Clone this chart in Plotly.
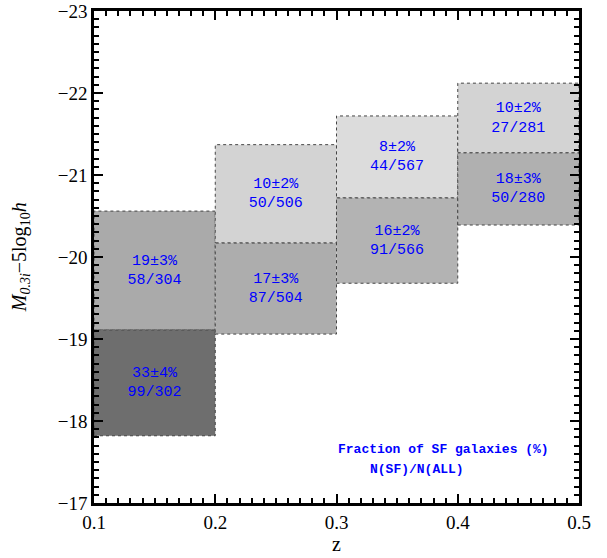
import plotly.graph_objects as go

# Redshift bins
z_lo = [0.1, 0.1, 0.2, 0.2, 0.3, 0.3, 0.4, 0.4]
z_hi = [0.2, 0.2, 0.3, 0.3, 0.4, 0.4, 0.5, 0.5]
# Magnitude bins (faint edge, bright edge)
mag_faint = [-19.11, -17.82, -20.17, -19.06, -20.72, -19.68, -21.27, -20.39]
mag_bright = [-20.56, -19.11, -21.37, -20.17, -21.72, -20.72, -22.12, -21.27]
frac_text = ["19±3%", "33±4%", "10±2%", "17±3%", "8±2%", "16±2%", "10±2%", "18±3%"]
count_text = ["58/304", "99/302", "50/506", "87/504", "44/567", "91/566", "27/281", "50/280"]
fill_colors = ["#aaaaaa", "#6e6e6e", "#d3d3d3", "#adadad", "#dcdcdc", "#b3b3b3", "#d3d3d3", "#b0b0b0"]

x_ticks = [0.1, 0.2, 0.3, 0.4, 0.5]
y_ticks = [-17, -18, -19, -20, -21, -22, -23]
y_ticklabels = ["\u221217", "\u221218", "\u221219", "\u221220", "\u221221", "\u221222", "\u221223"]

fig = go.Figure()

shapes = []
for i in range(len(z_lo)):
    shapes.append(dict(type="rect", xref="x", yref="y",
                       x0=z_lo[i], x1=z_hi[i], y0=mag_faint[i], y1=mag_bright[i],
                       fillcolor=fill_colors[i],
                       line=dict(color="#444444", width=1, dash="dot"),
                       layer="below"))

xc = [(a + b) / 2 for a, b in zip(z_lo, z_hi)]
yc = [(a + b) / 2 for a, b in zip(mag_faint, mag_bright)]
fig.add_trace(go.Scatter(
    x=xc, y=yc, mode="text",
    text=[f + "<br>" + c for f, c in zip(frac_text, count_text)],
    textfont=dict(family="Liberation Mono, DejaVu Sans Mono, monospace", size=15, color="#0000ff"),
    hoverinfo="skip", showlegend=False,
))

mono = "Liberation Mono, DejaVu Sans Mono, monospace"
fig.add_annotation(x=0.388, y=-17.65, xref="x", yref="y",
                   text="<b>Fraction of SF galaxies (%)</b>", showarrow=False,
                   font=dict(family=mono, size=13, color="#0000ff"))
fig.add_annotation(x=0.366, y=-17.41, xref="x", yref="y",
                   text="<b>N(SF)/N(ALL)</b>", showarrow=False,
                   font=dict(family=mono, size=13, color="#0000ff"))

serif = "Liberation Serif, DejaVu Serif, serif"
axis_font = dict(family=serif, size=19, color="black")

# axis titles
fig.add_annotation(x=0.5, y=-0.084, xref="paper", yref="paper", text="z", showarrow=False,
                   font=dict(family=serif, size=20, color="black"), yanchor="middle")
fig.add_annotation(x=-0.152, y=0.5, xref="paper", yref="paper",
                   text="<i>M</i><sub><i>0.3i</i></sub>\u22125log<sub>10</sub><i>h</i>",
                   showarrow=False, textangle=-90,
                   font=dict(family=serif, size=20, color="black"), xanchor="center")

fig.update_layout(
    width=607, height=558,
    margin=dict(l=94, r=28, t=11, b=55, autoexpand=False),
    paper_bgcolor="white", plot_bgcolor="white",
    shapes=shapes,
    showlegend=False,
    xaxis=dict(range=[0.1, 0.5], tickvals=x_ticks, ticktext=["0.1", "0.2", "0.3", "0.4", "0.5"],
               ticks="inside", ticklen=9, tickwidth=2, tickcolor="black",
               minor=dict(dtick=0.01, ticks="inside", ticklen=5, tickwidth=1.5, tickcolor="black"),
               showline=True, linecolor="black", linewidth=2.5, mirror="allticks",
               showgrid=False, zeroline=False, tickfont=axis_font, automargin=False),
    yaxis=dict(range=[-17, -23], tickvals=y_ticks, ticktext=y_ticklabels,
               ticks="inside", ticklen=9, tickwidth=2, tickcolor="black",
               minor=dict(dtick=0.1, ticks="inside", ticklen=5, tickwidth=1.5, tickcolor="black"),
               showline=True, linecolor="black", linewidth=2.5, mirror="allticks",
               showgrid=False, zeroline=False, tickfont=axis_font, automargin=False),
)

fig.write_html("out.html")
